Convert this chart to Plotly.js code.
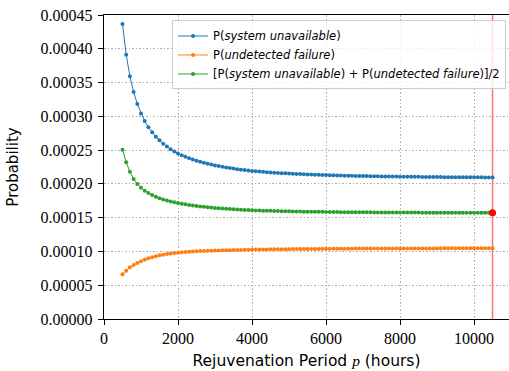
<!DOCTYPE html>
<html>
<head>
<meta charset="utf-8">
<script src="https://cdn.plot.ly/plotly-3.0.1.min.js"></script>
<style>html,body{margin:0;padding:0;background:#fff;}#chart{width:509px;height:371px;}</style>
</head>
<body>
<div id="chart"></div>
<script>
// Rejuvenation period p (hours)
const periods = [500,600,700,800,900,
1000,1100,1200,1300,1400,1500,1600,1700,1800,1900,
2000,2100,2200,2300,2400,2500,2600,2700,2800,2900,
3000,3100,3200,3300,3400,3500,3600,3700,3800,3900,
4000,4100,4200,4300,4400,4500,4600,4700,4800,4900,
5000,5100,5200,5300,5400,5500,5600,5700,5800,5900,
6000,6100,6200,6300,6400,6500,6600,6700,6800,6900,
7000,7100,7200,7300,7400,7500,7600,7700,7800,7900,
8000,8100,8200,8300,8400,8500,8600,8700,8800,8900,
9000,9100,9200,9300,9400,9500,9600,9700,9800,9900,
10000,10100,10200,10300,10400,10500];

// P(system unavailable)
const pUnavailable = [436.7e-6,391.3e-6,359.2e-6,336.0e-6,318.3e-6,
304.2e-6,293.1e-6,283.7e-6,276.3e-6,269.9e-6,264.5e-6,259.6e-6,255.3e-6,251.4e-6,248.0e-6,
245.0e-6,242.5e-6,240.1e-6,237.9e-6,236.0e-6,234.3e-6,232.7e-6,231.2e-6,229.9e-6,228.6e-6,
227.4e-6,226.3e-6,225.3e-6,224.3e-6,223.4e-6,222.6e-6,221.8e-6,221.1e-6,220.4e-6,219.8e-6,
219.2e-6,218.7e-6,218.2e-6,217.8e-6,217.4e-6,217.0e-6,216.6e-6,216.2e-6,215.9e-6,215.6e-6,
215.3e-6,215.0e-6,214.7e-6,214.5e-6,214.2e-6,214.0e-6,213.8e-6,213.6e-6,213.4e-6,213.2e-6,
213.0e-6,212.8e-6,212.7e-6,212.5e-6,212.4e-6,212.2e-6,212.1e-6,212.0e-6,211.8e-6,211.7e-6,
211.6e-6,211.5e-6,211.4e-6,211.3e-6,211.2e-6,211.1e-6,211.0e-6,210.9e-6,210.9e-6,210.8e-6,
210.7e-6,210.6e-6,210.6e-6,210.5e-6,210.4e-6,210.4e-6,210.3e-6,210.3e-6,210.2e-6,210.2e-6,
210.1e-6,210.1e-6,210.0e-6,210.0e-6,209.9e-6,209.9e-6,209.9e-6,209.8e-6,209.8e-6,209.8e-6,
209.7e-6,209.7e-6,209.7e-6,209.6e-6,209.6e-6,209.6e-6];

// P(undetected failure)
const pUndetected = [66.1e-6,71.5e-6,76.5e-6,79.9e-6,82.9e-6,
85.4e-6,87.8e-6,89.8e-6,91.3e-6,92.8e-6,94.2e-6,95.2e-6,96.2e-6,97.0e-6,97.7e-6,
98.2e-6,98.7e-6,99.2e-6,99.6e-6,99.9e-6,100.2e-6,100.5e-6,100.7e-6,100.9e-6,101.1e-6,
101.3e-6,101.5e-6,101.6e-6,101.8e-6,101.9e-6,102.1e-6,102.2e-6,102.3e-6,102.4e-6,102.5e-6,
102.6e-6,102.7e-6,102.8e-6,102.9e-6,103.0e-6,103.1e-6,103.2e-6,103.2e-6,103.3e-6,103.4e-6,
103.4e-6,103.5e-6,103.5e-6,103.6e-6,103.6e-6,103.7e-6,103.7e-6,103.8e-6,103.8e-6,103.9e-6,
103.9e-6,103.9e-6,104.0e-6,104.0e-6,104.0e-6,104.1e-6,104.1e-6,104.1e-6,104.2e-6,104.2e-6,
104.2e-6,104.2e-6,104.3e-6,104.3e-6,104.3e-6,104.3e-6,104.3e-6,104.4e-6,104.4e-6,104.4e-6,
104.4e-6,104.4e-6,104.4e-6,104.5e-6,104.5e-6,104.5e-6,104.5e-6,104.5e-6,104.5e-6,104.5e-6,
104.5e-6,104.6e-6,104.6e-6,104.6e-6,104.6e-6,104.6e-6,104.6e-6,104.6e-6,104.6e-6,104.6e-6,
104.6e-6,104.6e-6,104.6e-6,104.7e-6,104.7e-6,104.7e-6];

// [P(system unavailable) + P(undetected failure)]/2
const pMean = [250.7e-6,231.9e-6,218.1e-6,207.4e-6,200.0e-6,
194.3e-6,190.0e-6,186.4e-6,183.4e-6,181.0e-6,178.9e-6,177.0e-6,175.5e-6,174.0e-6,172.8e-6,
171.6e-6,170.6e-6,169.7e-6,168.8e-6,168.0e-6,167.3e-6,166.6e-6,166.0e-6,165.4e-6,164.9e-6,
164.4e-6,163.9e-6,163.5e-6,163.1e-6,162.7e-6,162.4e-6,162.0e-6,161.7e-6,161.4e-6,161.2e-6,
160.9e-6,160.7e-6,160.5e-6,160.4e-6,160.2e-6,160.1e-6,159.9e-6,159.7e-6,159.6e-6,159.5e-6,
159.4e-6,159.3e-6,159.1e-6,159.1e-6,158.9e-6,158.9e-6,158.8e-6,158.7e-6,158.6e-6,158.6e-6,
158.5e-6,158.4e-6,158.4e-6,158.3e-6,158.2e-6,158.2e-6,158.1e-6,158.1e-6,158.0e-6,158.0e-6,
157.9e-6,157.9e-6,157.9e-6,157.8e-6,157.8e-6,157.7e-6,157.7e-6,157.7e-6,157.7e-6,157.6e-6,
157.6e-6,157.5e-6,157.5e-6,157.5e-6,157.5e-6,157.5e-6,157.4e-6,157.4e-6,157.4e-6,157.4e-6,
157.3e-6,157.4e-6,157.3e-6,157.3e-6,157.3e-6,157.3e-6,157.3e-6,157.2e-6,157.2e-6,157.2e-6,
157.2e-6,157.2e-6,157.2e-6,157.2e-6,157.2e-6,157.2e-6];

// Optimum marker
const optPeriod = [10500];
const optValue = [157.2e-6];

// Tick labels
const xTickVals = [0, 2000, 4000, 6000, 8000, 10000];
const xTickLabels = ['0', '2000', '4000', '6000', '8000', '10000'];
const yTickVals = [0, 0.00005, 0.0001, 0.00015, 0.0002, 0.00025, 0.0003, 0.00035, 0.0004, 0.00045];
const yTickLabels = ['0.00000', '0.00005', '0.00010', '0.00015', '0.00020', '0.00025', '0.00030', '0.00035', '0.00040', '0.00045'];

const serif = 'Liberation Serif, serif';
const sans = 'DejaVu Sans, sans-serif';
const serifSpan = s => '<span style="font-family:Liberation Serif">' + s + '</span>';

function series(y, color, name) {
  return {
    x: periods, y: y, name: name, type: 'scatter', mode: 'lines+markers',
    line: {color: color, width: 1},
    marker: {color: color, size: 4}
  };
}

const traces = [
  series(pUnavailable, '#1f77b4', 'P(<i>system unavailable</i>)'),
  series(pUndetected, '#ff7f0e', 'P(<i>undetected failure</i>)'),
  series(pMean, '#2ca02c', '[P(<i>system unavailable</i>) + P(<i>undetected failure</i>)]/2'),
  {x: optPeriod, y: optValue, type: 'scatter', mode: 'markers', showlegend: false,
   marker: {color: '#ff0000', size: 7}}
];

const layout = {
  width: 509, height: 371,
  margin: {l: 104, r: 0, t: 15, b: 52},
  paper_bgcolor: '#ffffff', plot_bgcolor: '#ffffff',
  font: {family: serif, size: 16, color: '#000'},
  showlegend: true,
  legend: {
    x: 0.168, y: 0.982, xanchor: 'left', yanchor: 'top',
    bgcolor: 'rgba(255,255,255,0.8)', bordercolor: '#cccccc', borderwidth: 1,
    font: {family: sans, size: 11.5, color: '#000'},
    tracegroupgap: 0
  },
  xaxis: {
    range: [0, 10945], tickmode: 'array', tickvals: xTickVals, ticktext: xTickLabels.map(serifSpan),
    showline: true, mirror: true, linecolor: '#000', linewidth: 1.2,
    ticks: 'outside', ticklen: 5, tickwidth: 1, tickcolor: '#000',
    showgrid: true, gridcolor: '#b0b0b0', griddash: '1.5px,2px', gridwidth: 1,
    zeroline: false,
    tickfont: {family: serif, size: 16},
    title: {text: 'Rejuvenation Period <i style="font-family:Liberation Serif">p</i> (hours)',
            font: {family: sans, size: 15.5, color: '#000'}, standoff: 8}
  },
  yaxis: {
    range: [0, 0.00045], tickmode: 'array', tickvals: yTickVals, ticktext: yTickLabels.map(serifSpan),
    showline: true, linecolor: '#000', linewidth: 1.2,
    ticks: 'outside', ticklen: 5, tickwidth: 1, tickcolor: '#000',
    ticklabelstandoff: 2,
    showgrid: true, gridcolor: '#b0b0b0', griddash: '1.5px,2px', gridwidth: 1,
    zeroline: false,
    tickfont: {family: serif, size: 16},
    title: {text: 'Probability', font: {family: sans, size: 15, color: '#000'}, standoff: 18}
  },
  shapes: [{
    type: 'line', xref: 'x', yref: 'paper', x0: optPeriod[0], x1: optPeriod[0], y0: 0, y1: 1,
    line: {color: 'rgba(255,0,0,0.55)', width: 1.5}, layer: 'below'
  }]
};

Plotly.newPlot('chart', traces, layout, {displayModeBar: false, staticPlot: true});
</script>
</body>
</html>
